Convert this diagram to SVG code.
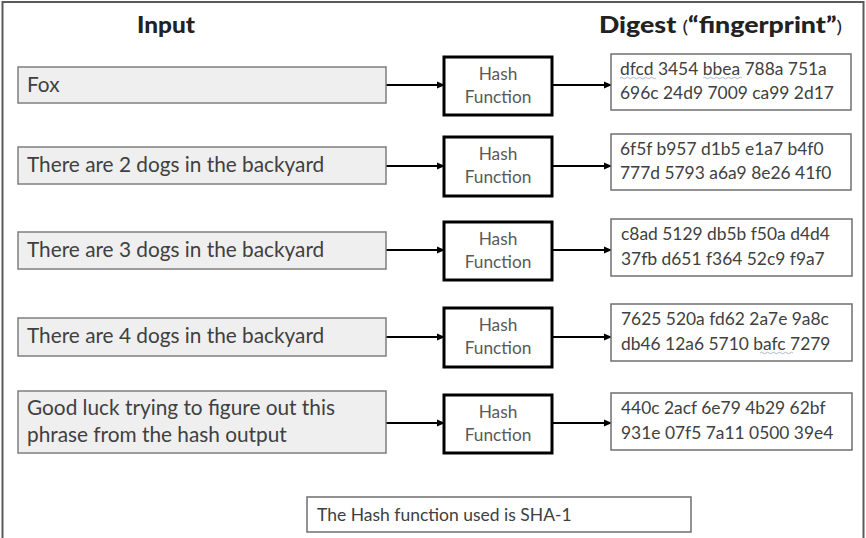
<svg xmlns="http://www.w3.org/2000/svg" width="866" height="538" viewBox="0 0 866 538">
<style>
.t{font-family:Lato,"Open Sans",sans-serif;fill:#404040}
.in{fill:#efefef;stroke:#7f7f7f;stroke-width:1.5}
.hb{fill:#fff;stroke:#000;stroke-width:3}
.db{fill:#fff;stroke:#6f6f6f;stroke-width:1.5}
.it{font-size:20.8px}
.ht{font-size:17.3px;fill:#595959;text-anchor:middle}
.dt{font-size:17.4px}
.hd{font-family:Lato,"DejaVu Sans",sans-serif;font-weight:900;font-size:22px;fill:#222}
.c line{stroke:#000;stroke-width:1.8;marker-end:url(#a)}
.sq{fill:none;stroke:#9aa6c8;stroke-width:0.8}
</style>
<defs>
<marker id="a" markerWidth="8" markerHeight="8" refX="7" refY="4" orient="auto" markerUnits="userSpaceOnUse">
<path d="M0,0.5 L8,4 L0,7.5 Z" fill="#000"/>
</marker>
</defs>
<rect x="0" y="0" width="866" height="538" fill="#fff"/>
<rect x="2.5" y="2" width="861" height="545" fill="none" stroke="#5a5a5a" stroke-width="2"/>
<g id="headers">
<text class="hd" x="137" y="33" textLength="58" lengthAdjust="spacingAndGlyphs">Input</text>
<text class="hd" x="599" y="33" textLength="243" lengthAdjust="spacingAndGlyphs">Digest <tspan font-size="17" font-weight="400">(</tspan>“fingerprint”<tspan font-size="17" font-weight="400">)</tspan></text>
</g>
<g class="c" id="connectors">
<line x1="386" y1="85" x2="444" y2="85"/><line x1="552" y1="85" x2="611" y2="85"/>
<line x1="386" y1="166" x2="444" y2="166"/><line x1="552" y1="166" x2="611" y2="166"/>
<line x1="386" y1="250" x2="444" y2="250"/><line x1="552" y1="250" x2="611" y2="250"/>
<line x1="386" y1="337" x2="444" y2="337"/><line x1="552" y1="337" x2="611" y2="337"/>
<line x1="386" y1="423" x2="444" y2="423"/><line x1="552" y1="423" x2="611" y2="423"/>
</g>
<g id="in1"><rect class="in" x="18" y="67" width="368" height="36"/><text class="t it" x="27" y="92">Fox</text></g>
<g id="in2"><rect class="in" x="18" y="147" width="368" height="37"/><text class="t it" x="27" y="172">There are 2 dogs in the backyard</text></g>
<g id="in3"><rect class="in" x="18" y="232" width="368" height="37"/><text class="t it" x="27" y="257">There are 3 dogs in the backyard</text></g>
<g id="in4"><rect class="in" x="18" y="318" width="368" height="38"/><text class="t it" x="27" y="343">There are 4 dogs in the backyard</text></g>
<g id="in5"><rect class="in" x="18" y="391" width="368" height="62"/><text class="t it" x="27" y="415">Good luck trying to figure out this</text><text class="t it" x="27" y="442">phrase from the hash output</text></g>
<g id="h1"><rect class="hb" x="444" y="57" width="108" height="58"/><text class="t ht" x="498" y="80">Hash</text><text class="t ht" x="498" y="103">Function</text></g>
<g id="h2"><rect class="hb" x="444" y="137" width="108" height="59"/><text class="t ht" x="498" y="160">Hash</text><text class="t ht" x="498" y="183">Function</text></g>
<g id="h3"><rect class="hb" x="444" y="222" width="108" height="58"/><text class="t ht" x="498" y="245">Hash</text><text class="t ht" x="498" y="268">Function</text></g>
<g id="h4"><rect class="hb" x="444" y="308" width="108" height="59"/><text class="t ht" x="498" y="331">Hash</text><text class="t ht" x="498" y="354">Function</text></g>
<g id="h5"><rect class="hb" x="444" y="395" width="108" height="58"/><text class="t ht" x="498" y="418">Hash</text><text class="t ht" x="498" y="441">Function</text></g>
<g id="d1"><rect class="db" x="611" y="54" width="240" height="56"/><text class="t dt" x="620" y="75">dfcd 3454 bbea 788a 751a</text><text class="t dt" x="620" y="99">696c 24d9 7009 ca99 2d17</text>
<path class="sq" d="M620,78 q1.5,-1.5 3,0 t3,0 t3,0 t3,0 t3,0 t3,0 t3,0 t3,0 t3,0 t3,0 t3,0 t3,0"/>
<path class="sq" d="M703,78 q1.5,-1.5 3,0 t3,0 t3,0 t3,0 t3,0 t3,0 t3,0 t3,0 t3,0 t3,0 t3,0 t3,0 t3,0"/></g>
<g id="d2"><rect class="db" x="611" y="134" width="240" height="56"/><text class="t dt" x="620" y="155">6f5f b957 d1b5 e1a7 b4f0</text><text class="t dt" x="620" y="179">777d 5793 a6a9 8e26 41f0</text></g>
<g id="d3"><rect class="db" x="611" y="219" width="241" height="57"/><text class="t dt" x="621" y="240">c8ad 5129 db5b f50a d4d4</text><text class="t dt" x="621" y="265">37fb d651 f364 52c9 f9a7</text></g>
<g id="d4"><rect class="db" x="611" y="304" width="241" height="57"/><text class="t dt" x="621" y="325">7625 520a fd62 2a7e 9a8c</text><text class="t dt" x="621" y="350">db46 12a6 5710 bafc 7279</text>
<path class="sq" d="M760,353 q1.5,-1.5 3,0 t3,0 t3,0 t3,0 t3,0 t3,0 t3,0 t3,0 t3,0 t3,0 t3,0"/></g>
<g id="d5"><rect class="db" x="611" y="393" width="241" height="57"/><text class="t dt" x="621" y="414">440c 2acf 6e79 4b29 62bf</text><text class="t dt" x="621" y="439">931e 07f5 7a11 0500 39e4</text></g>
<g id="note"><rect class="db" x="307" y="497" width="384" height="35"/><text class="t" x="317" y="521" font-size="17.5">The Hash function used is SHA-1</text></g>
</svg>
